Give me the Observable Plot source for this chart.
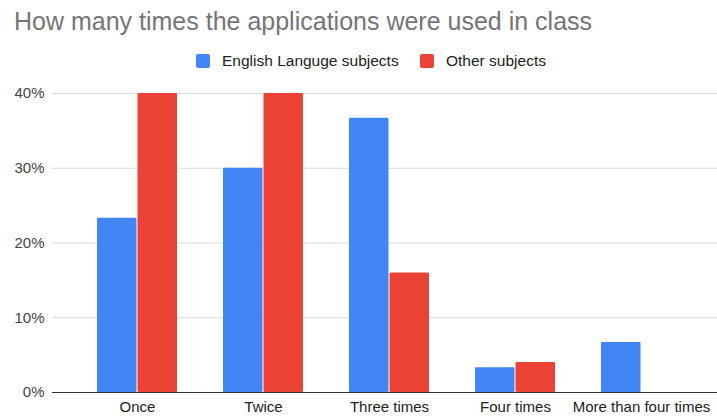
<!DOCTYPE html>
<html><head><meta charset="utf-8">
<script src="https://cdn.jsdelivr.net/npm/d3@7"></script>
<script src="https://cdn.jsdelivr.net/npm/@observablehq/plot@0.6"></script>
<style>
body{margin:0;background:#fff;font-family:"Liberation Sans",Arial,sans-serif;}
#wrap{position:relative;width:717px;height:416px;overflow:hidden;}
#title{position:absolute;left:14px;top:7px;font-size:25px;color:#757575;white-space:nowrap;}
#legend{position:absolute;top:52px;left:0;width:717px;font-size:15.5px;color:#222;white-space:nowrap;}
.item{position:absolute;top:0;display:flex;align-items:center;height:18px;}
.sw{width:14px;height:14px;border-radius:2px;margin-right:12px;}
#chart{position:absolute;left:0;top:78px;}
</style></head>
<body><div id="wrap">
<div id="title">How many times the applications were used in class</div>
<div id="legend"></div>
<div id="chart"></div>
</div>
<script>
const categories = ["Once","Twice","Three times","Four times","More than four times"];
const seriesNames = ["English Languge subjects","Other subjects"];
const englishValues = [0.233, 0.30, 0.367, 0.033, 0.067];
const otherValues = [0.40, 0.40, 0.16, 0.04, 0];
const yTicks = [0, 0.1, 0.2, 0.3, 0.4];
const colors = ["#4285F4","#EA4335"];

const english = categories.map((c,i)=>({cat:c, value:englishValues[i]}));
const other = categories.map((c,i)=>({cat:c, value:otherValues[i]}));

// legend
const legend = document.getElementById("legend");
const legendX = [196, 420];
seriesNames.forEach((s,i)=>{
  const d = document.createElement("div");
  d.className="item"; d.style.left = legendX[i]+"px";
  d.innerHTML = `<span class="sw" style="background:${colors[i]}"></span><span>${s}</span>`;
  legend.appendChild(d);
});

const chart = Plot.plot({
  width: 717,
  height: 338,
  marginLeft: 52,
  marginRight: 0,
  marginTop: 15,
  marginBottom: 24,
  style: {fontFamily: "'Liberation Sans', Arial, sans-serif", fontSize: "15px", color: "#222", background: "#fff", overflow: "visible"},
  x: {domain: categories, range: [51, 727], paddingInner: 0.365, paddingOuter: 0.365, label: null, tickSize: 0, tickPadding: 9},
  y: {domain: [0, 0.4], ticks: yTicks, tickFormat: d3.format(".0%"), label: null, tickSize: 0, tickPadding: 8},
  marks: [
    Plot.ruleY(yTicks.slice(1), {stroke: "#d9d9d9", strokeWidth: 1}),
    Plot.barY(english, {x: "cat", y: "value", fill: colors[0], insetRight: 40.5, rx: 1}),
    Plot.barY(other, {x: "cat", y: "value", fill: colors[1], insetLeft: 40.5, rx: 1}),
    Plot.ruleY([0], {stroke: "#333", strokeWidth: 1})
  ]
});
chart.querySelectorAll('[aria-label="y-axis tick label"] text, [aria-label="y-axis tick label"]').forEach(e=>e.setAttribute("fill","#444"));
document.getElementById("chart").appendChild(chart);
</script>
</body></html>
